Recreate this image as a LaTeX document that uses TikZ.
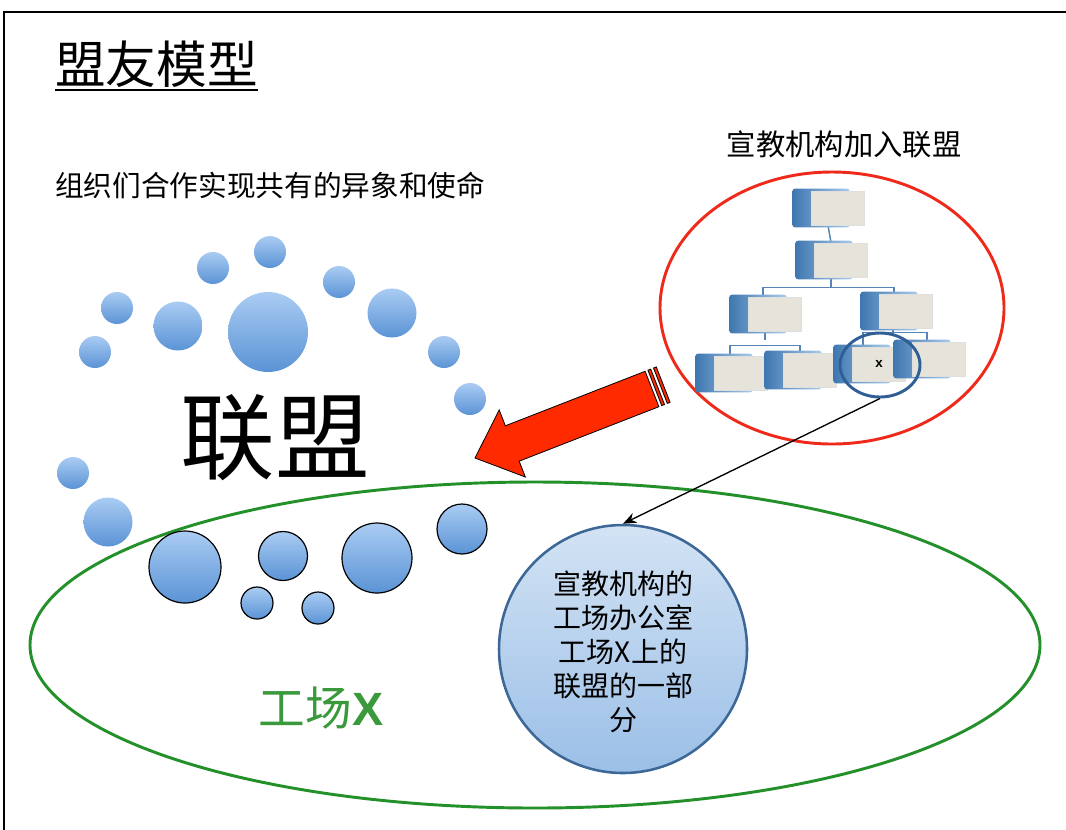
\documentclass[tikz,border=0pt]{standalone}
\usepackage{fontspec}
\usetikzlibrary{calc,arrows.meta,shapes.geometric}
\newfontfamily\cjk{Noto Sans CJK SC}
\newfontfamily\latinsans{Liberation Sans}

\definecolor{bubtop}{HTML}{AACCF3}
\definecolor{bubbot}{HTML}{5A93D5}
\definecolor{ringblue}{HTML}{2F5F95}
\definecolor{officetop}{HTML}{D3E3F4}
\definecolor{officebot}{HTML}{9BBFE7}
\definecolor{officerim}{HTML}{3C6797}
\definecolor{orgline}{HTML}{5585B8}
\definecolor{orgfront}{HTML}{E5E3DA}
\definecolor{orgbackL}{HTML}{3F77B0}
\definecolor{orgbackR}{HTML}{AACBEA}
\definecolor{alarm}{HTML}{FF2A00}
\definecolor{rim}{HTML}{EE2B1B}
\definecolor{field}{HTML}{23902A}
\definecolor{fieldtext}{HTML}{3A993A}

\pgfdeclarelayer{back}
\pgfsetlayers{back,main}

\tikzset{
  bubble/.style={circle, inner sep=0pt, shading=axis, top color=bubtop,
    bottom color=bubbot, minimum size=#1},
  rimbubble/.style={bubble=#1, draw=black, line width=0.9pt},
  orgface/.style={rectangle, inner sep=0pt, fill=orgfront, draw=white!75!gray,
    line width=0.6pt, minimum width=40pt, minimum height=25.5pt},
  orgback/.style={rectangle, inner sep=0pt, rounded corners=2pt,
    left color=orgbackL, right color=orgbackR,
    minimum width=43pt, minimum height=29pt},
  orgwire/.style={draw=orgline, line width=1.1pt},
  label/.style={inner sep=0pt, font=\cjk},
}

% one chart box: blue block behind, light face in front
\newcommand\orgbox[3]{%
  \node[orgback] at ($(#2,#3)+(-17,0)$) {};
  \node[orgface] (#1) at (#2,#3) {};
}

\begin{document}
\begin{tikzpicture}[x=0.75pt,y=-0.75pt]
\useasboundingbox (0,0) rectangle (1066,829);
\clip (0,0) rectangle (1066,829);

% page frame (only its top and left edges fall on the page)
\draw[line width=2.2pt] (4,12) rectangle (1300,1000);

% headings
\node[inner sep=0pt, font=\cjk\fontsize{38pt}{40pt}\selectfont, anchor=west]
  (title) at (55,64) {盟友模型};
\draw[line width=2pt] (55,90) -- (258,90);
\node[label, font=\cjk\fontsize{21.5pt}{24pt}\selectfont, anchor=west]
  (vision) at (55,185) {组织们合作实现共有的异象和使命};
\node[label, font=\cjk\fontsize{22pt}{24pt}\selectfont]
  (joins) at (844,144) {宣教机构加入联盟};

% the field
\node[ellipse, draw=field, line width=2.2pt, minimum width=757.5pt,
  minimum height=244.5pt] (field) at (535,645) {};
\node[inner sep=0pt, text=fieldtext, font=\cjk\fontsize{35pt}{38pt}\selectfont]
  (fieldname) at (321,708) {工场{\latinsans\bfseries X}};

% alliance bubbles
\node[bubble=24pt] (a1) at (270,252) {};
\node[bubble=24pt] (a2) at (213,268) {};
\node[bubble=24pt] (a3) at (117,308) {};
\node[bubble=24pt] (a4) at (95,352) {};
\node[bubble=36.75pt] (a5) at (178,326) {};
\node[bubble=60pt] (a6) at (268,332) {};
\node[bubble=24pt] (a7) at (339,282) {};
\node[bubble=36.75pt] (a8) at (392,313) {};
\node[bubble=24pt] (a9) at (444,352) {};
\node[bubble=24pt] (a10) at (470,399) {};
\node[bubble=24pt] (a11) at (73,473) {};
\node[bubble=36.75pt] (a12) at (108,522) {};
\node[rimbubble=54pt] (a13) at (185,567) {};
\node[rimbubble=36.75pt] (a14) at (283,556) {};
\node[rimbubble=52.5pt] (a15) at (377,558) {};
\node[rimbubble=37.5pt] (a16) at (462,529) {};
\node[rimbubble=24pt] (a17) at (257,603) {};
\node[rimbubble=24pt] (a18) at (318,608) {};

\node[inner sep=0pt, font=\cjk\fontsize{71pt}{74pt}\selectfont]
  (alliance) at (275,438) {联盟};

% mission agency joining
\node[ellipse, draw=rim, line width=2.2pt, minimum width=258pt,
  minimum height=204pt] (agency) at (832,308) {};

\orgbox{b1}{838}{208}
\orgbox{b2}{841}{260}
\orgbox{b3l}{775}{314}
\orgbox{b3r}{906}{311}
\orgbox{b4a}{741}{373}
\orgbox{b4b}{810}{370}
\orgbox{b4c}{879}{364}
\orgbox{b4d}{939}{359}
\node[inner sep=0pt, font=\latinsans\bfseries\fontsize{10pt}{11pt}\selectfont] (xmark) at (b4c) {x};

\begin{pgfonlayer}{back}
  \draw[orgwire] ($(b1.south)+(-10,0)$) -- ($(b2.north)+(-10,0)$);
  \draw[orgwire] ($(b2.south)+(-10,0)$) -- ($(b2.south)+(-10,10)$);
  \draw[orgwire] ($(b3l.north)+(-12,0)$) |- ($(b2.south)+(-10,10)$) -| ($(b3r.north)+(-12,0)$);
  \draw[orgwire] ($(b3l.south)+(-10,0)$) -- ($(b3l.south)+(-10,9)$);
  \draw[orgwire] ($(b4a.north)+(-11,0)$) |- ($(b4b.north)+(-10,-7)$) -- ($(b4b.north)+(-10,0)$);
  \draw[orgwire] ($(b3r.south)+(-13,0)$) -- ($(b3r.south)+(-13,7)$);
  \draw[orgwire] ($(b4c.north)+(-16,0)$) |- ($(b4d.north)+(-12,-9)$) -- ($(b4d.north)+(-12,0)$);
\end{pgfonlayer}

\node[ellipse, draw=ringblue, line width=2.2pt, minimum width=60pt,
  minimum height=48pt, inner sep=0pt] (xring) at (880,365) {};

% big red arrow into the alliance
\begin{scope}[shift={(475,458)}, rotate=21.3]
  \filldraw[fill=alarm, draw=black, line width=0.6pt]
    (0,0) -- (40,-36) -- (40,-19) -- (190,-19) -- (190,19) -- (40,19) -- (40,36) -- cycle;
  \filldraw[fill=alarm, draw=black, line width=0.6pt] (193,-19) rectangle (196,19);
  \filldraw[fill=alarm, draw=black, line width=0.6pt] (199,-19) rectangle (202,19);
\end{scope}

% the agency's field office
\node[circle, draw=officerim, line width=1.9pt, minimum size=186pt, inner sep=0pt,
  shading=axis, top color=officetop, middle color=officetop!92!officebot,
  bottom color=officebot] (office) at (623,649) {};
\node[align=center, inner sep=0pt, font=\cjk\fontsize{21pt}{25.5pt}\selectfont]
  (officetext) at (623,652) {宣教机构的\\工场办公室\\工场X上的\\联盟的一部\\分};

\draw[line width=1pt, -{Stealth[length=10pt,width=8pt]}] (xring.south) -- (office.north);
\end{tikzpicture}
\end{document}
